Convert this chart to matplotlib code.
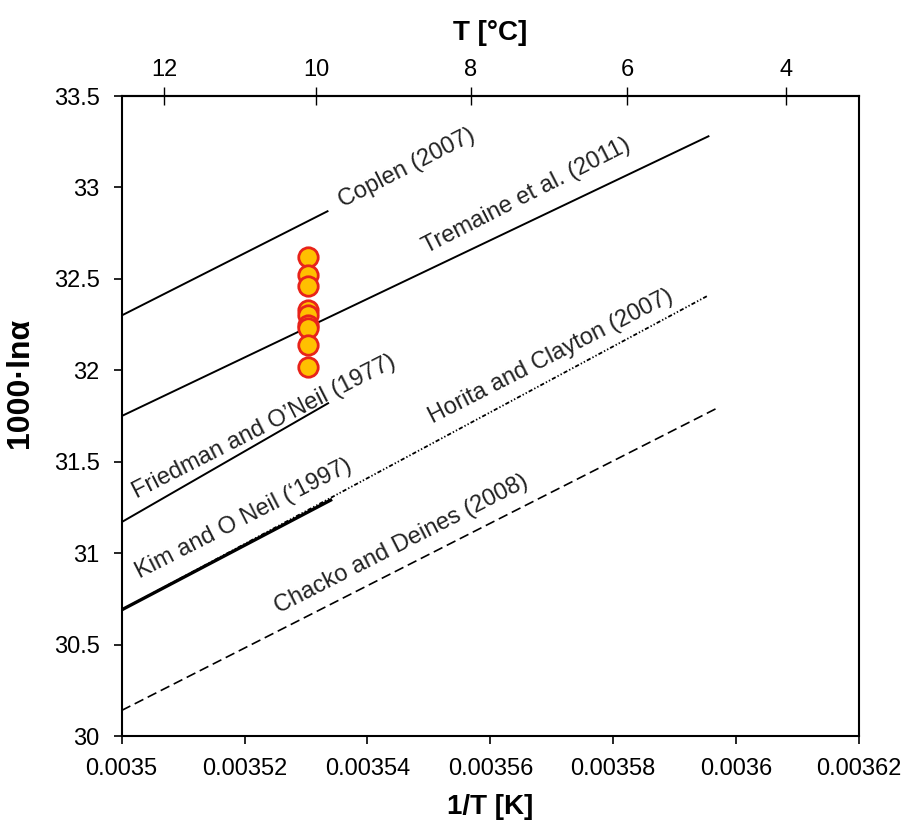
import numpy as np
import matplotlib
matplotlib.use("Agg")
import matplotlib.pyplot as plt
from matplotlib import font_manager

# fractionation lines: (x start, x end), (y start, y end)
coplen_x = [0.0035, 0.0035335]
coplen_y = [32.30, 32.87]
tremaine_x = [0.0035, 0.0035955]
tremaine_y = [31.75, 33.28]
friedman_x = [0.0035, 0.0035336]
friedman_y = [31.17, 31.82]
kim_x = [0.0035, 0.003534]
kim_y = [30.69, 31.29]
horita_x = [0.0035, 0.0035955]
horita_y = [30.69, 32.41]
chacko_x = [0.0035, 0.0035973]
chacko_y = [30.14, 31.80]

# measured samples
sample_x = [0.0035303] * 9
sample_y = [32.62, 32.52, 32.46, 32.33, 32.30, 32.25, 32.23, 32.14, 32.02]

x_ticks = [0.0035, 0.00352, 0.00354, 0.00356, 0.00358, 0.0036, 0.00362]
x_tick_labels = ["0.0035", "0.00352", "0.00354", "0.00356", "0.00358", "0.0036", "0.00362"]
y_ticks = [30, 30.5, 31, 31.5, 32, 32.5, 33, 33.5]
y_tick_labels = ["30", "30.5", "31", "31.5", "32", "32.5", "33", "33.5"]
t_ticks = [12, 10, 8, 6, 4]

names = {f.name for f in font_manager.fontManager.ttflist}
NARROW = "Liberation Sans Narrow" if "Liberation Sans Narrow" in names else "Liberation Sans"
plt.rcParams["font.family"] = ["Liberation Sans", "DejaVu Sans"]
plt.rcParams["lines.scale_dashes"] = False


def inv_to_c(x):
    x = np.asarray(x, dtype=float)
    with np.errstate(divide="ignore", invalid="ignore"):
        return 1.0 / x - 273.15


def c_to_inv(t):
    t = np.asarray(t, dtype=float)
    with np.errstate(divide="ignore", invalid="ignore"):
        return 1.0 / (t + 273.15)


fig = plt.figure(figsize=(9.04, 8.21), dpi=100)
ax = fig.add_axes([0.1346, 0.1035, 0.8156, 0.7795])

ax.plot(coplen_x, coplen_y, color="black", lw=1.4)
ax.plot(tremaine_x, tremaine_y, color="black", lw=1.4)
ax.plot(friedman_x, friedman_y, color="black", lw=1.4)
ax.plot(horita_x, horita_y, color="black", lw=1.3,
        dashes=(3, 1.5, 1, 1.5, 1, 1.5))
ax.plot(kim_x, kim_y, color="black", lw=2.4)
ax.plot(chacko_x, chacko_y, color="black", lw=1.2, dashes=(7, 3.5))

ax.plot(sample_x, sample_y, "o", ms=14, mfc="#FFC000", mec="#E8231A",
        mew=2.0, zorder=5)

# curve labels along the lines
rot = 27
lab_kw = dict(fontsize=17, rotation=rot, rotation_mode="anchor",
              ha="left", va="baseline", color="#222222")
ax.text(0.0035360, 32.89, "Coplen (2007)", **lab_kw)
ax.text(0.0035497, 32.64, "Tremaine et al. (2011)", **lab_kw)
ax.text(0.0035024, 31.30, "Friedman and O\u2019Neil (1977)", **lab_kw)
ax.text(0.0035030, 30.86, "Kim and O Neil (\u20181997)", **lab_kw)
ax.text(0.0035507, 31.71, "Horita and Clayton (2007)", **lab_kw)
ax.text(0.0035255, 30.67, "Chacko and Deines (2008)", **lab_kw)

ax.set_xlim(0.0035, 0.00362)
ax.set_ylim(30, 33.5)
ax.set_xticks(x_ticks)
ax.set_xticklabels(x_tick_labels, family=NARROW, fontsize=17)
ax.set_yticks(y_ticks)
ax.set_yticklabels(y_tick_labels, fontsize=17)
ax.tick_params(axis="both", direction="out", length=6, width=1.2, colors="black")
ax.tick_params(axis="x", pad=10)
ax.tick_params(axis="y", pad=10)
for s in ax.spines.values():
    s.set_linewidth(1.5)

ax.set_xlabel("1/T [K]", family=NARROW, fontsize=20, fontweight="bold", labelpad=10)
ax.set_ylabel("1000\u00b7ln\u03b1", fontsize=23, fontweight="bold")
ax.yaxis.set_label_coords(-0.118, 0.552)

top = ax.secondary_xaxis("top", functions=(inv_to_c, c_to_inv))
top.set_xticks(t_ticks)
top.set_xticklabels([str(t) for t in t_ticks], family=NARROW, fontsize=17)
top.tick_params(direction="inout", length=13, width=1.0, pad=4)
top.spines["top"].set_linewidth(1.5)
top.set_xlabel("T [\u00b0C]", family=NARROW, fontsize=20, fontweight="bold", labelpad=14)

fig.savefig("out.png", dpi=100, facecolor="white")
